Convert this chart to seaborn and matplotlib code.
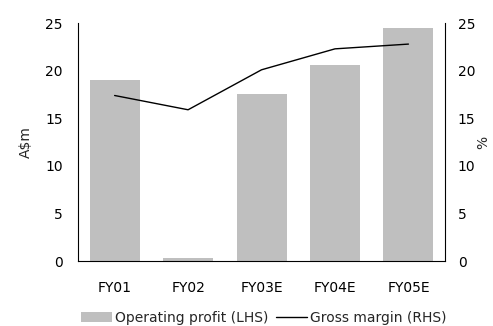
import matplotlib
matplotlib.use("Agg")
import matplotlib.pyplot as plt
import seaborn as sns
import pandas as pd
from matplotlib.patches import Patch
from matplotlib.lines import Line2D

years = ["FY01", "FY02", "FY03E", "FY04E", "FY05E"]
operating_profit = [19.0, 0.35, 17.6, 20.6, 24.5]   # A$m
gross_margin = [17.4, 15.9, 20.1, 22.3, 22.8]        # %

df = pd.DataFrame({"year": years, "profit": operating_profit, "margin": gross_margin})

sns.set_style("white")
plt.rcParams["font.family"] = ["DejaVu Sans"]
fs = 10

fig = plt.figure(figsize=(4.93, 3.26), dpi=100)
ax = fig.add_axes([0.158, 0.199, 0.745, 0.730])

sns.barplot(data=df, x="year", y="profit", color="#BFBFBF", saturation=1,
            width=0.68, linewidth=0, ax=ax)
ax.set_ylim(0, 25)
ax.set_yticks([0, 5, 10, 15, 20, 25])
ax.set_xlabel("")
ax.set_ylabel("A$m", fontsize=fs, labelpad=9)
ax.tick_params(axis="both", length=0, labelsize=fs, colors="black")
ax.tick_params(axis="x", pad=14)
ax.tick_params(axis="y", pad=11)

ax2 = ax.twinx()
sns.lineplot(x=list(range(len(years))), y=gross_margin, color="black",
             linewidth=1.0, ax=ax2)
ax2.set_ylim(0, 25)
ax2.set_yticks([0, 5, 10, 15, 20, 25])
ax2.set_ylabel("%", fontsize=fs, labelpad=1)
ax2.tick_params(axis="y", length=0, labelsize=fs, colors="black", pad=9)
ax.set_xlim(-0.5, len(years) - 0.5)

for a in (ax, ax2):
    a.spines["top"].set_visible(False)
    for s in ("left", "right", "bottom"):
        a.spines[s].set_color("black")
        a.spines[s].set_linewidth(0.8)
ax.spines["right"].set_visible(False)
ax2.spines["left"].set_visible(False)
ax2.spines["bottom"].set_visible(False)

handles = [Patch(facecolor="#BFBFBF", edgecolor="none"),
           Line2D([0], [0], color="black", linewidth=1.0)]
fig.legend(handles, ["Operating profit (LHS)", "Gross margin (RHS)"],
           loc="lower center", bbox_to_anchor=(0.535, -0.035), ncol=2,
           frameon=False, fontsize=fs, handlelength=2.2, handletextpad=0.2,
           columnspacing=0.6)

fig.savefig("out.png", dpi=100)
